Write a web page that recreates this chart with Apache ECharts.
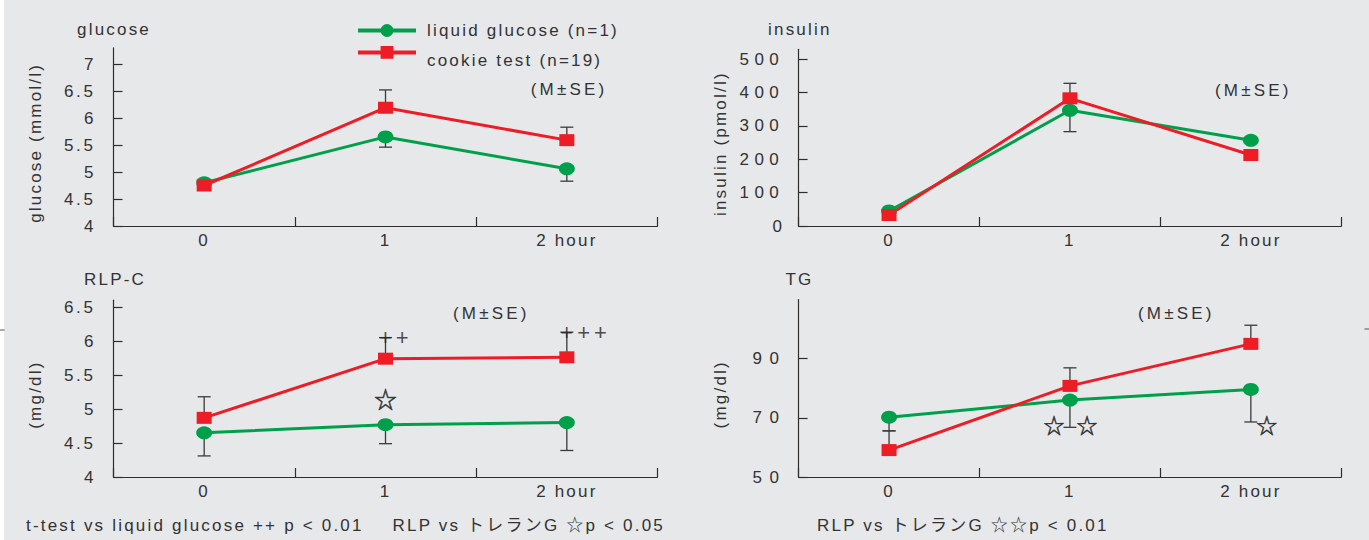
<!DOCTYPE html>
<html><head><meta charset="utf-8">
<script src="https://cdn.jsdelivr.net/npm/echarts@6/dist/echarts.min.js"></script>
<style>
html,body{margin:0;padding:0;background:#e7e8ea;}
#c{width:1369px;height:540px;}
</style></head><body><div id="c"></div>
<script>
// ---------- data ----------
const categories = ['0', '1', '2 hour'];
const seriesNames = ['liquid glucose (n=1)', 'cookie test (n=19)'];

const glucoseLiquid = [4.80, 5.65, 5.06];
const glucoseCookie = [4.75, 6.19, 5.59];
const glucoseLiquidLow = [null, 5.46, 4.83];
const glucoseCookieHigh = [null, 6.52, 5.83];

const insulinLiquid = [45, 347, 257];
const insulinCookie = [33, 383, 213];
const insulinLiquidLow = [null, 283, null];
const insulinCookieHigh = [null, 428, null];

const rlpLiquid = [4.65, 4.77, 4.80];
const rlpCookie = [4.87, 5.74, 5.76];
const rlpLiquidLow = [4.31, 4.49, 4.39];
const rlpCookieHigh = [5.18, 6.05, 6.13];

const tgLiquid = [70.2, 76.0, 79.6];
const tgCookie = [59.1, 80.8, 95.0];
const tgLiquidLow = [65.6, 66.8, 68.6];
const tgCookieHigh = [65.6, 86.9, 101.3];

const glucoseTicks = [4, 4.5, 5, 5.5, 6, 6.5, 7];
const insulinTicks = [0, 100, 200, 300, 400, 500];
const rlpTicks = [4, 4.5, 5, 5.5, 6, 6.5];
const tgTicks = [50, 70, 90];

const rlpMarks = [['1', 6.05, '++'], ['2 hour', 6.13, '+++'], ['1', 5.13, '☆']];
const tgMarks = [['1', 67.35, '☆'], ['1', 67.35, '☆'], ['2 hour', 67.35, '☆']];

// ---------- styles ----------
const GREEN = '#00a04b', RED = '#ee1c25', INK = '#333333', AXIS = '#2e2e2e';
const FONT = "'Liberation Sans', 'Noto Sans CJK JP', sans-serif";
const rlpMarkStyle = [{align: 'left', dx: -6.5, size: 22, bw: 0}, {align: 'left', dx: -6.5, size: 22, bw: 0}, {align: 'center', dx: 0, size: 23, bw: 0.6}];
const tgMarkStyle = [{align: 'center', dx: -16, size: 21, bw: 0.6}, {align: 'center', dx: 17, size: 21, bw: 0.6}, {align: 'center', dx: 16, size: 21, bw: 0.6}];

const grids = [
  {left: 113.5, top: 47.8, width: 544, height: 178.2},
  {left: 798.6, top: 49.3, width: 542.7, height: 176.7},
  {left: 113.5, top: 300.2, width: 544, height: 176.8},
  {left: 798.6, top: 299.5, width: 542.7, height: 177.5}
];
const yDefs = [
  {min: 4, max: 7.3, ticks: glucoseTicks, name: 'glucose (mmol/l)', margin: 17.8},
  {min: 0, max: 530, ticks: insulinTicks, name: 'insulin (pmol/l)', margin: 14.5},
  {min: 4, max: 6.6, ticks: rlpTicks, name: '(mg/dl)', margin: 17.8},
  {min: 50, max: 110, ticks: tgTicks, name: '(mg/dl)', margin: 12.2}
];

const xAxis = grids.map((g, i) => ({
  type: 'category', gridIndex: i, data: categories, boundaryGap: true,
  axisLine: {show: true, lineStyle: {color: AXIS, width: 1.2}},
  axisTick: {show: true, inside: true, length: 9, lineStyle: {color: AXIS, width: 1.2}},
  axisLabel: {margin: 6, fontSize: 17, color: INK, fontFamily: FONT},
  splitLine: {show: false}
}));
const yAxis = yDefs.map((d, i) => ({
  type: 'value', gridIndex: i, min: d.min, max: d.max,
  name: d.name, nameLocation: 'middle', nameRotate: 90, nameGap: 70,
  nameTextStyle: {fontSize: 17, color: INK, fontFamily: FONT, padding: [0, 12, 0, 0]},
  axisLine: {show: true, lineStyle: {color: AXIS, width: 1.2}},
  axisTick: {show: true, inside: true, length: 9, customValues: d.ticks, lineStyle: {color: AXIS, width: 1.2}},
  axisLabel: {margin: d.margin, fontSize: 17, color: INK, fontFamily: FONT, customValues: d.ticks},
  splitLine: {show: false}
}));

function lineSeries(i, name, data, color, sym, size) {
  return {
    type: 'line', name: name, xAxisIndex: i, yAxisIndex: i, data: data,
    symbol: sym, symbolSize: size, showAllSymbol: true,
    lineStyle: {color: color, width: 3}, itemStyle: {color: color, opacity: 1},
    z: 3, silent: true, animation: false
  };
}
function errSeries(i, means, bounds) {
  const data = [];
  means.forEach((m, k) => { if (bounds[k] != null) data.push([k, m, bounds[k]]); });
  return {
    type: 'custom', xAxisIndex: i, yAxisIndex: i, z: 2, silent: true,
    encode: {x: 0, y: [1, 2]}, data: data,
    renderItem: function (params, api) {
      const p0 = api.coord([api.value(0), api.value(1)]);
      const p1 = api.coord([api.value(0), api.value(2)]);
      const st = {stroke: '#3a3a3a', lineWidth: 1.3};
      return {type: 'group', children: [
        {type: 'line', shape: {x1: p0[0], y1: p0[1], x2: p1[0], y2: p1[1]}, style: st},
        {type: 'line', shape: {x1: p1[0] - 6.5, y1: p1[1], x2: p1[0] + 6.5, y2: p1[1]}, style: st}
      ]};
    }
  };
}
function markSeries(i, marks, styles) {
  return {
    type: 'scatter', xAxisIndex: i, yAxisIndex: i, z: 5, silent: true,
    symbolSize: 1, itemStyle: {color: 'rgba(0,0,0,0)'},
    data: marks.map((m, k) => ({
      value: [m[0], m[1]],
      label: {show: true, position: 'inside', formatter: m[2], align: styles[k].align,
        offset: [styles[k].dx, 0], fontSize: styles[k].size, color: '#222', fontFamily: FONT, verticalAlign: 'middle',
        textBorderColor: '#222', textBorderWidth: styles[k].bw}
    }))
  };
}

const circle = [16, 13], square = [15, 12];
const series = [];
const sets = [
  [glucoseLiquid, glucoseCookie, glucoseLiquidLow, glucoseCookieHigh],
  [insulinLiquid, insulinCookie, insulinLiquidLow, insulinCookieHigh],
  [rlpLiquid, rlpCookie, rlpLiquidLow, rlpCookieHigh],
  [tgLiquid, tgCookie, tgLiquidLow, tgCookieHigh]
];
sets.forEach((s, i) => {
  series.push(errSeries(i, s[0], s[2]));
  series.push(errSeries(i, s[1], s[3]));
  series.push(lineSeries(i, seriesNames[0], s[0], GREEN, 'circle', circle));
  series.push(lineSeries(i, seriesNames[1], s[1], RED, 'rect', square));
});
series.push(markSeries(2, rlpMarks, rlpMarkStyle));
series.push(markSeries(3, tgMarks, tgMarkStyle));

const tStyle = {fontSize: 17, fontWeight: 'normal', color: INK, fontFamily: FONT};
function txt(x, y, text) {
  return {type: 'text', x: x, y: y, style: {text: text, fill: INK, font: '17px ' + FONT, verticalAlign: 'middle', align: 'left'}, silent: true};
}
const legendBase = {left: 356, padding: 0, itemWidth: 58, itemHeight: 16, selectedMode: false,
  lineStyle: {width: 4}};

const option = {
  animation: false,
  backgroundColor: '#e7e8ea',
  title: [
    {text: 'glucose', left: 77, top: 21, padding: 0, textStyle: tStyle},
    {text: 'insulin', left: 768, top: 21, padding: 0, textStyle: tStyle},
    {text: 'RLP-C', left: 84, top: 270.5, padding: 0, textStyle: tStyle},
    {text: 'TG', left: 785.5, top: 270.5, padding: 0, textStyle: tStyle}
  ],
  legend: [
    Object.assign({}, legendBase, {data: [seriesNames[0]], top: 22,
      formatter: '{a|{name}}',
      textStyle: {rich: {a: {fontSize: 17, color: INK, fontFamily: FONT, padding: [0, 0, 0, 6]}}}}),
    Object.assign({}, legendBase, {data: [seriesNames[1]], top: 46,
      formatter: '{a|{name}}',
      textStyle: {rich: {a: {fontSize: 17, color: INK, fontFamily: FONT, padding: [17, 0, 0, 6]}}}})
  ],
  grid: grids.map(g => Object.assign({containLabel: false, outerBoundsMode: 'none'}, g)),
  xAxis: xAxis,
  yAxis: yAxis,
  series: series,
  graphic: [
    {type: 'rect', shape: {x: 0, y: 0, width: 4, height: 540}, style: {fill: '#ffffff'}, silent: true},
    {type: 'line', shape: {x1: 0, y1: 330, x2: 4.5, y2: 330}, style: {stroke: '#555', lineWidth: 1}, silent: true},
    {type: 'line', shape: {x1: 1364.5, y1: 329, x2: 1369, y2: 329}, style: {stroke: '#555', lineWidth: 1}, silent: true},
    txt(530.7, 89, '(M±SE)'),
    txt(1215, 90, '(M±SE)'),
    txt(453, 313.3, '(M±SE)'),
    txt(1138, 313, '(M±SE)'),
    txt(26, 525, 't-test vs liquid glucose ++ p < 0.01'),
    txt(392.5, 525, 'RLP vs トレランG ☆p < 0.05'),
    txt(817, 525, 'RLP vs トレランG ☆☆p < 0.01')
  ]
};

const dom = document.getElementById('c');
const chart = echarts.init(dom, null, {renderer: 'svg'});
chart.setOption(option);

function spacingFor(t) {
  if (/^[1-5]00$/.test(t)) return 5.4;
  if (/^(50|70|90)$/.test(t)) return 7.5;
  if (/^\d\.\d$/.test(t)) return 2.7;
  if (/^\++$/.test(t)) return 4;
  if (/^☆$/.test(t)) return 0;
  if (t.indexOf('±') >= 0) return 3.2;
  return 2.2;
}
function applySpacing() {
  dom.querySelectorAll('text').forEach(el => {
    const v = spacingFor(el.textContent.trim()) + 'px';
    if (el.style.letterSpacing !== v) el.style.letterSpacing = v;
  });
}
try { chart.getZr().refreshImmediately(); } catch (e) {}
applySpacing();
chart.on('finished', applySpacing);
new MutationObserver(applySpacing).observe(dom, {childList: true, subtree: true, characterData: true});
setTimeout(applySpacing, 30);
</script></body></html>
